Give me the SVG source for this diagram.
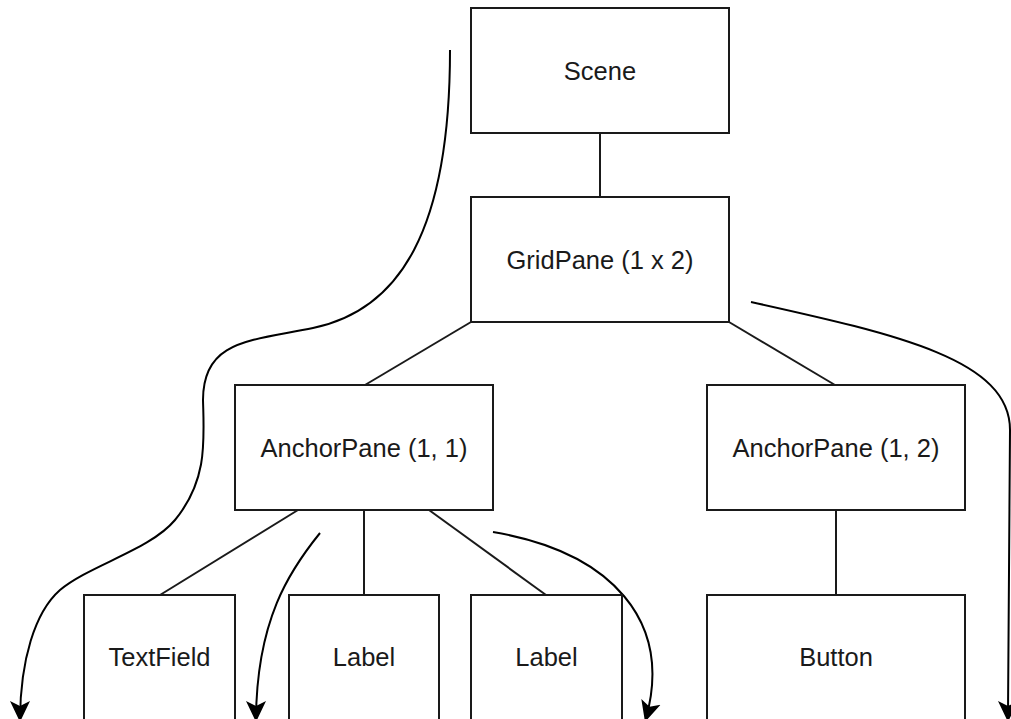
<svg xmlns="http://www.w3.org/2000/svg" width="1011" height="719" viewBox="0 0 1011 719">
  <style>
    .box { fill: #ffffff; stroke: #1a1a1a; stroke-width: 2; }
    .lbl { font-family: "Liberation Sans", Arial, sans-serif; font-size: 25.5px; fill: #1a1a1a; text-anchor: middle; }
    .link { fill: none; stroke: #1a1a1a; stroke-width: 2; }
    .flow { fill: none; stroke: #000000; stroke-width: 2; marker-end: url(#arrow); }
  </style>
  <defs>
    <marker id="arrow" markerUnits="userSpaceOnUse" viewBox="0 0 22 22" markerWidth="22" markerHeight="22" refX="21" refY="11" orient="auto">
      <path d="M0,1 L21,11 L0,21 L5,11 Z" fill="#000000"/>
    </marker>
  </defs>
  <rect width="1011" height="719" fill="#ffffff"/>

  <!-- tree links and flow arrows -->
  <g id="connectors">
    <line class="link" x1="600" y1="133" x2="600" y2="197"/>
    <line class="link" x1="471" y1="322" x2="365" y2="385"/>
    <line class="link" x1="729" y1="322" x2="835" y2="385"/>
    <line class="link" x1="298" y1="510" x2="160" y2="595"/>
    <line class="link" x1="364" y1="510" x2="364" y2="595"/>
    <line class="link" x1="429" y1="510" x2="546" y2="595"/>
    <line class="link" x1="836" y1="510" x2="836" y2="595"/>

    <path class="flow" d="M450,50 C450,230 400,310 313,328 C250,341 203,340 203,400 C204,440 208,480 175,520 C150,550 90,565 60,590 C35,612 20,660 20,722"/>
    <path class="flow" d="M320,533 C290,570 256,620 256,722"/>
    <path class="flow" d="M493,532 C610,552 675,620 645,722"/>
    <path class="flow" d="M751,302 C900,335 1010,360 1010,430 C1010,560 1008,640 1008,722"/>
  </g>

  <g id="scene">
    <rect class="box" x="471" y="8" width="258" height="125"/>
    <text class="lbl" x="600" y="79.5">Scene</text>
  </g>
  <g id="gridpane">
    <rect class="box" x="471" y="197" width="258" height="125"/>
    <text class="lbl" x="600" y="268.5">GridPane (1 x 2)</text>
  </g>
  <g id="anchorpane-1-1">
    <rect class="box" x="235" y="385" width="258" height="125"/>
    <text class="lbl" x="364" y="456.5">AnchorPane (1, 1)</text>
  </g>
  <g id="anchorpane-1-2">
    <rect class="box" x="707" y="385" width="258" height="125"/>
    <text class="lbl" x="836" y="456.5">AnchorPane (1, 2)</text>
  </g>
  <g id="textfield">
    <rect class="box" x="84" y="595" width="151" height="125"/>
    <text class="lbl" x="159.5" y="666">TextField</text>
  </g>
  <g id="label-1">
    <rect class="box" x="289" y="595" width="150" height="125"/>
    <text class="lbl" x="364" y="666">Label</text>
  </g>
  <g id="label-2">
    <rect class="box" x="471" y="595" width="151" height="125"/>
    <text class="lbl" x="546.5" y="666">Label</text>
  </g>
  <g id="button">
    <rect class="box" x="707" y="595" width="258" height="125"/>
    <text class="lbl" x="836" y="666">Button</text>
  </g>
</svg>
